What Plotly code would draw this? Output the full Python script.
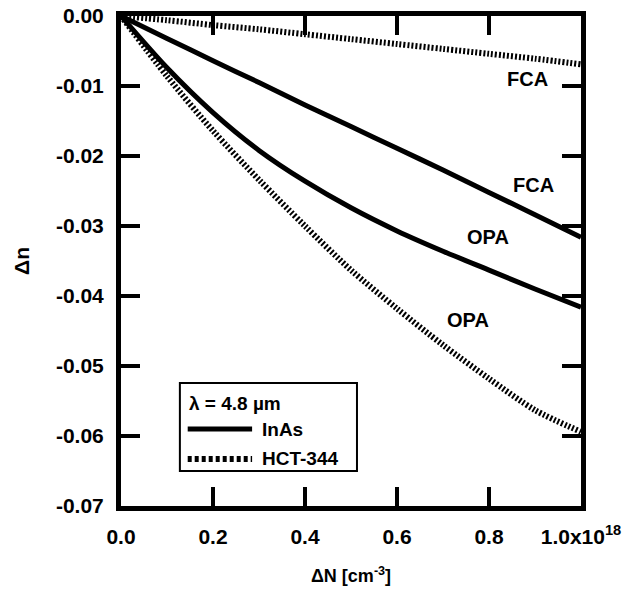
import plotly.graph_objects as go

# Carrier density ΔN in units of 1e18 cm^-3
dN = [0.0, 0.1, 0.2, 0.3, 0.4, 0.5, 0.6, 0.7, 0.8, 0.9, 1.0]

inas_fca = [0.0, -0.0032, -0.0064, -0.0095, -0.0127, -0.0158, -0.0189, -0.0220, -0.0252, -0.0284, -0.0316]
inas_opa = [0.0, -0.0074, -0.0138, -0.0192, -0.0236, -0.0274, -0.0307, -0.0336, -0.0363, -0.0390, -0.0416]
hct_fca = [0.0, -0.0006, -0.0013, -0.0019, -0.0026, -0.0033, -0.0040, -0.0047, -0.0054, -0.0061, -0.0069]
hct_opa = [0.0, -0.0086, -0.0164, -0.0234, -0.0300, -0.0363, -0.0418, -0.0470, -0.0518, -0.0563, -0.0594]

x_tickvals = [0.0, 0.2, 0.4, 0.6, 0.8, 1.0]
x_ticktext = ["0.0", "0.2", "0.4", "0.6", "0.8", "1.0x10<sup>18</sup>"]
y_tickvals = [0.0, -0.01, -0.02, -0.03, -0.04, -0.05, -0.06, -0.07]
y_ticktext = ["0.00", "-0.01", "-0.02", "-0.03", "-0.04", "-0.05", "-0.06", "-0.07"]

labels = [
    ("FCA", 0.883, -0.0090),
    ("FCA", 0.896, -0.0241),
    ("OPA", 0.798, -0.0316),
    ("OPA", 0.754, -0.0434),
]

legend_title = "λ = 4.8 µm"
legend_names = ["InAs", "HCT-344"]

FONT = "Liberation Sans, Arial, Helvetica, sans-serif"
solid = dict(color="black", width=5, shape="spline", smoothing=0.8)
dotted = dict(color="black", width=6, dash="2px,2px", shape="spline", smoothing=0.8)

fig = go.Figure()
fig.add_trace(go.Scatter(x=dN, y=inas_fca, mode="lines", line=solid, name="InAs (FCA)", showlegend=False))
fig.add_trace(go.Scatter(x=dN, y=inas_opa, mode="lines", line=solid, name="InAs (OPA)", showlegend=False))
fig.add_trace(go.Scatter(x=dN, y=hct_fca, mode="lines", line=dotted, name="HCT-344 (FCA)", showlegend=False))
fig.add_trace(go.Scatter(x=dN, y=hct_opa, mode="lines", line=dotted, name="HCT-344 (OPA)", showlegend=False))

for txt, lx, ly in labels:
    fig.add_annotation(x=lx, y=ly, text=txt, showarrow=False, yanchor="middle", xanchor="center",
                       font=dict(family=FONT, size=20, color="black", weight=700))

# Boxed legend (drawn in paper coordinates)
lx0, lx1, ly0, ly1 = 0.128, 0.513, 0.0714, 0.251
fig.add_shape(type="rect", xref="paper", yref="paper", x0=lx0, x1=lx1, y0=ly0, y1=ly1,
              line=dict(color="black", width=2), fillcolor="white", layer="above")
fig.add_annotation(xref="paper", yref="paper", x=0.143, y=0.210, xanchor="left", yanchor="middle",
                   text=legend_title, showarrow=False,
                   font=dict(family=FONT, size=19, color="black", weight=700))
sample_styles = [dict(color="black", width=5), dict(color="black", width=6, dash="4px,3px")]
sample_y = [0.157, 0.096]
for name, st, sy in zip(legend_names, sample_styles, sample_y):
    fig.add_shape(type="line", xref="paper", yref="paper", x0=0.145, x1=0.285, y0=sy, y1=sy,
                  line=st, layer="above")
    fig.add_annotation(xref="paper", yref="paper", x=0.303, y=sy, xanchor="left", yanchor="middle",
                       text=name, showarrow=False,
                       font=dict(family=FONT, size=19, color="black", weight=700))

axis_common = dict(
    showline=True, linecolor="black", linewidth=5, mirror="ticks",
    ticks="inside", ticklen=19, tickwidth=4, tickcolor="black",
    showgrid=False, zeroline=False, automargin=False, ticklabeloverflow="allow",
    tickfont=dict(family=FONT, size=21, color="black", weight=700),
)

fig.update_xaxes(range=[0, 1.0], tickmode="array", tickvals=x_tickvals, ticktext=x_ticktext,
                 title=dict(text="ΔN [cm<sup>-3</sup>]", font=dict(family=FONT, size=18, color="black", weight=700), standoff=24),
                 ticklabelstandoff=8, **axis_common)
fig.update_yaxes(range=[-0.07, 0], tickmode="array", tickvals=y_tickvals, ticktext=y_ticktext,
                 title=dict(text="Δn", font=dict(family=FONT, size=21, color="black", weight=700), standoff=22),
                 ticklabelstandoff=8, **axis_common)

fig.update_layout(
    width=622, height=584,
    margin=dict(l=113, r=49, t=8, b=86),
    plot_bgcolor="white", paper_bgcolor="white",
    showlegend=False,
)

fig.write_html("out.html")
